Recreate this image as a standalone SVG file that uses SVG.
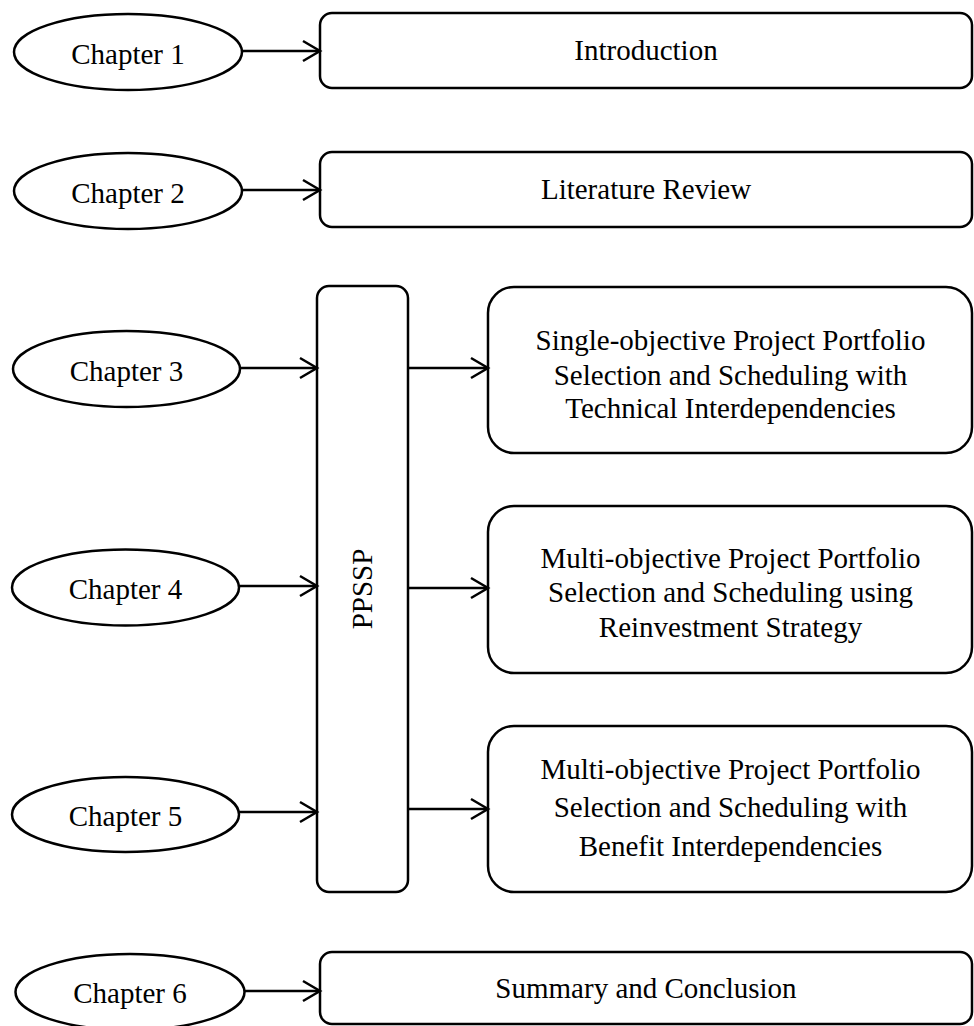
<svg xmlns="http://www.w3.org/2000/svg" width="974" height="1026" viewBox="0 0 974 1026">
  <style>
    .shape { fill: #ffffff; stroke: #000000; stroke-width: 2.5; }
    .label { font-family: "Liberation Serif", "Times New Roman", serif; font-size: 29px; fill: #000000; text-anchor: middle; }
    .link { stroke: #000000; stroke-width: 2.5; fill: none; }
  </style>
  <defs>
    <marker id="open-arrow" viewBox="0 0 20 22" refX="18" refY="11" markerWidth="20" markerHeight="22" markerUnits="userSpaceOnUse" orient="auto" overflow="visible">
      <path d="M1,1 L18,11 L1,21" fill="none" stroke="#000000" stroke-width="2.5" stroke-linejoin="miter"/>
    </marker>
  </defs>
  <rect width="974" height="1026" fill="#ffffff"/>

  <!-- Chapter ellipses -->
  <g id="chapter1"><ellipse class="shape" cx="128" cy="52" rx="114" ry="38"/><text class="label" x="128" y="64">Chapter 1</text></g>
  <g id="chapter2"><ellipse class="shape" cx="128" cy="191" rx="114" ry="38"/><text class="label" x="128" y="203">Chapter 2</text></g>
  <g id="chapter3"><ellipse class="shape" cx="126.5" cy="369" rx="113.5" ry="38"/><text class="label" x="126.5" y="381">Chapter 3</text></g>
  <g id="chapter4"><ellipse class="shape" cx="125.5" cy="587.5" rx="113.5" ry="38"/><text class="label" x="125.5" y="599">Chapter 4</text></g>
  <g id="chapter5"><ellipse class="shape" cx="125.5" cy="814.5" rx="113.5" ry="37.5"/><text class="label" x="125.5" y="826">Chapter 5</text></g>
  <g id="chapter6"><ellipse class="shape" cx="130" cy="992" rx="114.5" ry="38"/><text class="label" x="130" y="1003">Chapter 6</text></g>

  <!-- Single-line topic boxes -->
  <g id="introduction"><rect class="shape" x="320" y="13" width="652" height="75" rx="12"/><text class="label" x="646" y="60">Introduction</text></g>
  <g id="literature-review"><rect class="shape" x="320" y="152" width="652" height="75" rx="12"/><text class="label" x="646" y="199">Literature Review</text></g>
  <g id="summary"><rect class="shape" x="320" y="952" width="652" height="72" rx="12"/><text class="label" x="646" y="998">Summary and Conclusion</text></g>

  <!-- PPSSP bar -->
  <g id="ppssp">
    <rect class="shape" x="317" y="286" width="91" height="606" rx="12"/>
    <text class="label" x="0" y="0" transform="translate(372,589) rotate(-90)">PPSSP</text>
  </g>

  <!-- Research topic boxes -->
  <g id="topic-single">
    <rect class="shape" x="488" y="287" width="484" height="166" rx="26"/>
    <text class="label" x="730.5" y="350">Single-objective Project Portfolio</text>
    <text class="label" x="730.5" y="385">Selection and Scheduling with</text>
    <text class="label" x="730.5" y="418">Technical Interdependencies</text>
  </g>
  <g id="topic-reinvestment">
    <rect class="shape" x="488" y="506" width="484" height="167" rx="26"/>
    <text class="label" x="730.5" y="568">Multi-objective Project Portfolio</text>
    <text class="label" x="730.5" y="602">Selection and Scheduling using</text>
    <text class="label" x="730.5" y="637">Reinvestment Strategy</text>
  </g>
  <g id="topic-benefit">
    <rect class="shape" x="488" y="726" width="484" height="166" rx="26"/>
    <text class="label" x="730.5" y="779">Multi-objective Project Portfolio</text>
    <text class="label" x="730.5" y="817">Selection and Scheduling with</text>
    <text class="label" x="730.5" y="856">Benefit Interdependencies</text>
  </g>

  <!-- Connectors -->
  <g id="connectors">
    <line class="link" x1="242" y1="51" x2="320" y2="51" marker-end="url(#open-arrow)"/>
    <line class="link" x1="242" y1="190" x2="320" y2="190" marker-end="url(#open-arrow)"/>
    <line class="link" x1="240" y1="368" x2="317" y2="368" marker-end="url(#open-arrow)"/>
    <line class="link" x1="239" y1="586" x2="317" y2="586" marker-end="url(#open-arrow)"/>
    <line class="link" x1="239" y1="812" x2="317" y2="812" marker-end="url(#open-arrow)"/>
    <line class="link" x1="244" y1="991" x2="320" y2="991" marker-end="url(#open-arrow)"/>
    <line class="link" x1="408" y1="368" x2="488" y2="368" marker-end="url(#open-arrow)"/>
    <line class="link" x1="408" y1="588" x2="488" y2="588" marker-end="url(#open-arrow)"/>
    <line class="link" x1="408" y1="809" x2="488" y2="809" marker-end="url(#open-arrow)"/>
  </g>
</svg>
